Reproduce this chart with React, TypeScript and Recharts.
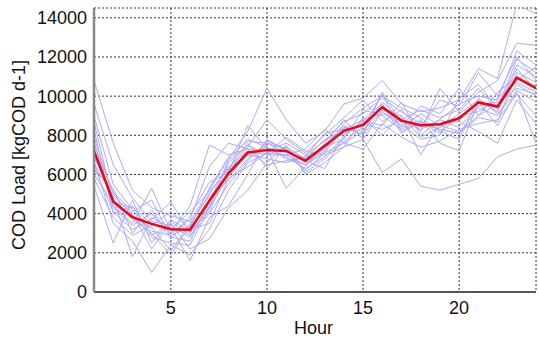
import { CartesianGrid, Line, LineChart, XAxis, YAxis } from "recharts";

const hours = [1, 2, 3, 4, 5, 6, 7, 8, 9, 10, 11, 12, 13, 14, 15, 16, 17, 18, 19, 20, 21, 22, 23, 24];
const xTicks = [5, 10, 15, 20];
const yTicks = [0, 2000, 4000, 6000, 8000, 10000, 12000, 14000];

// mean daily profile (red)
const meanLoad = [7220, 4620, 3820, 3480, 3200, 3180, 4660, 6060, 7120, 7250, 7200, 6700, 7450, 8230, 8530, 9440, 8750, 8520, 8570, 8870, 9680, 9470, 10940, 10410];

// individual days (light blue)
const day01 = [10800, 7600, 5200, 4300, 3900, 3600, 5200, 6800, 8200, 10400, 8800, 7600, 8200, 9600, 9900, 10800, 9600, 9200, 9400, 9800, 11400, 10900, 14700, 14200];
const day02 = [9600, 6500, 4800, 3600, 3400, 2800, 4400, 6200, 7400, 8800, 7800, 7100, 8000, 8900, 9800, 8700, 9300, 8200, 10400, 9200, 10200, 10800, 12700, 12600];
const day03 = [9000, 5500, 4200, 3100, 2900, 3300, 5300, 6900, 7700, 7600, 7300, 6600, 7300, 8400, 8000, 10200, 8600, 7800, 8000, 9900, 10600, 9400, 11900, 11200];
const day04 = [7900, 5000, 3900, 2800, 2500, 2400, 4300, 5900, 7000, 7400, 6900, 6300, 6900, 7900, 8800, 9600, 8400, 9100, 8500, 8200, 9000, 9600, 10400, 10100];
const day05 = [7300, 4400, 3500, 5300, 3100, 4400, 7500, 7000, 7300, 7200, 7600, 7000, 7700, 8700, 9100, 9900, 9200, 8600, 8300, 8100, 8900, 8700, 11200, 10700];
const day06 = [6700, 3500, 2600, 1000, 2400, 1900, 3200, 5200, 6600, 7100, 7000, 6500, 7100, 7600, 7300, 8600, 7900, 7400, 7700, 8300, 8600, 8800, 10100, 9000];
const day07 = [6400, 4100, 3200, 3700, 4600, 3000, 4300, 6600, 7500, 7000, 7400, 6800, 7800, 8100, 8600, 8300, 8800, 9300, 8900, 9300, 10400, 9300, 11600, 11000];
const day08 = [6000, 4500, 3800, 3300, 2100, 3500, 4900, 5700, 6800, 7600, 7100, 6200, 7100, 8400, 8200, 9500, 8100, 8700, 8100, 9000, 9200, 9900, 10700, 10200];
const day09 = [5400, 2500, 4700, 2500, 3700, 3100, 4100, 6300, 7000, 6800, 6600, 6900, 7400, 7800, 9300, 9000, 8300, 8800, 7600, 7200, 9700, 8500, 10300, 9700];
const day10 = [7000, 4800, 1800, 3800, 3300, 1600, 3800, 4400, 6000, 7800, 7200, 6700, 6300, 8000, 8700, 8500, 9700, 8000, 8800, 8400, 9500, 9700, 10800, 11500];
const day11 = [6200, 5300, 3000, 4200, 2700, 3900, 5600, 6100, 8500, 7300, 5300, 6400, 7600, 8800, 7800, 9200, 8500, 9500, 9100, 10400, 9000, 10200, 11000, 10500];
const day12 = [8300, 4000, 4400, 2900, 3500, 2200, 2700, 4300, 5200, 6600, 7500, 6000, 6600, 7400, 8900, 8000, 9000, 7000, 8600, 8700, 8200, 7600, 9800, 8600];
const day13 = [6900, 4700, 3700, 3000, 1900, 3400, 5000, 6400, 7200, 7000, 7000, 7300, 8300, 7600, 8200, 9700, 8800, 8400, 9800, 9500, 11200, 10000, 12000, 10800];
const day14 = [7500, 5100, 4100, 4700, 2800, 2600, 4600, 6700, 7800, 7400, 6800, 6500, 7200, 8600, 9400, 10000, 9400, 8900, 8200, 7800, 9900, 9100, 10200, 7600];
const day15 = [5800, 3800, 2900, 3400, 4100, 3200, 3500, 5800, 6400, 7100, 7900, 7200, 7000, 7400, 7800, 6100, 6800, 5400, 5200, 5500, 5800, 6900, 7300, 7500];
const day16 = [7700, 4300, 3400, 4000, 3000, 3700, 6400, 7600, 7300, 6500, 6700, 6900, 8100, 8300, 8800, 9100, 8700, 8300, 8800, 9600, 10000, 9800, 12300, 11600];
const day17 = [6500, 4900, 4000, 2200, 3600, 2900, 4000, 5500, 6700, 7700, 7300, 6100, 6800, 7700, 8400, 10100, 8200, 8700, 8300, 8100, 9400, 9000, 10600, 10000];
const day18 = [8700, 4600, 4300, 3500, 3200, 4100, 5100, 6300, 7600, 6300, 7400, 6800, 7500, 8500, 8000, 9300, 9000, 7900, 8400, 9100, 9800, 9200, 11400, 10300];

const days = [day01, day02, day03, day04, day05, day06, day07, day08, day09, day10, day11, day12, day13, day14, day15, day16, day17, day18];

const data = hours.map((h, i) => {
  const row: Record<string, number> = { hour: h, mean: meanLoad[i] };
  days.forEach((d, k) => {
    row[`d${k}`] = d[i];
  });
  return row;
});

const font = '"Liberation Sans", Arial, sans-serif';

export default function App() {
  return (
    <div style={{ position: "absolute", left: 0, top: 0, width: 539, height: 338, background: "#fff", fontFamily: font }}>
      <LineChart width={539} height={338} data={data} margin={{ top: 8, right: 3, left: 0, bottom: 0 }}>
        <CartesianGrid stroke="#333" strokeDasharray="2 2" />
        <XAxis
          dataKey="hour"
          type="number"
          domain={[1, 24]}
          ticks={xTicks}
          allowDataOverflow
          height={46}
          tickLine={false}
          tickSize={0}
          tickMargin={9}
          axisLine={{ stroke: "#555", strokeWidth: 2 }}
          tick={{ fill: "#111", fontSize: 18, fontFamily: font }}
        />
        <YAxis
          type="number"
          domain={[0, 14500]}
          ticks={yTicks}
          allowDataOverflow
          width={94}
          tickLine={false}
          tickSize={0}
          tickMargin={7}
          axisLine={{ stroke: "#888", strokeWidth: 2.5 }}
          tick={{ fill: "#111", fontSize: 18, fontFamily: font }}
        />
        {days.map((_, k) => (
          <Line
            key={k}
            dataKey={`d${k}`}
            stroke="#aaaaff"
            strokeWidth={1}
            dot={false}
            isAnimationActive={false}
          />
        ))}
        <Line dataKey="mean" stroke="#ff0000" strokeWidth={2.5} dot={false} isAnimationActive={false} />
      </LineChart>
      <svg width={539} height={338} style={{ position: "absolute", left: 0, top: 0, pointerEvents: "none" }}>
        <text x={313.5} y={334} textAnchor="middle" fontSize={18} fill="#111" fontFamily={font}>
          Hour
        </text>
        <text x={25} y={155} textAnchor="middle" fontSize={18} fill="#111" fontFamily={font} transform="rotate(-90 25 155)">
          COD Load [kgCOD d-1]
        </text>
      </svg>
    </div>
  );
}
